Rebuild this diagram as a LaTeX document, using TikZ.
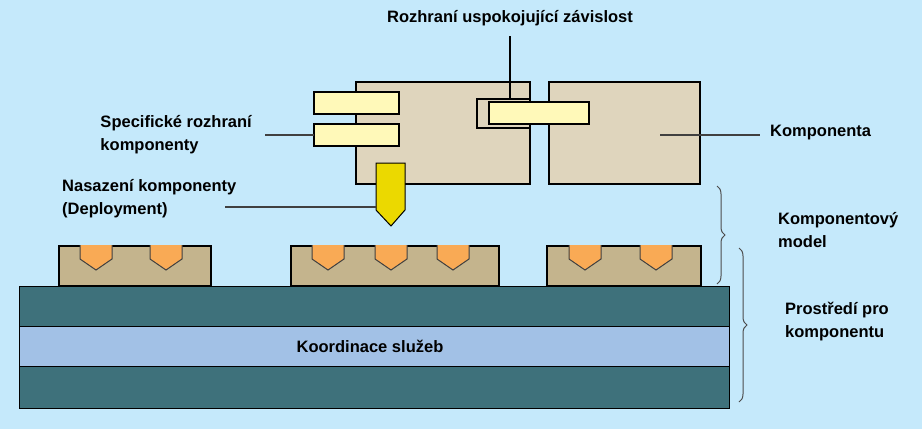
\documentclass[tikz,border=0pt]{standalone}
\usepackage{fontspec}
\setmainfont{Liberation Sans}
\usetikzlibrary{decorations.pathreplacing}
\definecolor{bg}{HTML}{C5E9FB}
\definecolor{comp}{HTML}{DFD5BD}
\definecolor{yel}{HTML}{FFF9B9}
\definecolor{base}{HTML}{C4B48D}
\definecolor{orng}{HTML}{F9AA55}
\definecolor{slab}{HTML}{3E717B}
\definecolor{band}{HTML}{A2C1E6}
\definecolor{plug}{HTML}{EBD900}
\tikzset{x=1pt,y=-1pt,
 lbl/.style={font=\bfseries\fontsize{16.5}{23}\selectfont,align=left,inner sep=0},
 box/.style={draw=black,line width=1.2pt},
 lead/.style={draw=black!75,line width=1.2pt},
 sock/.style={fill=orng,draw=black!75,line width=1pt},
 brc/.style={draw=black!70,line width=1pt,decorate,decoration={brace,amplitude=8pt}}}
\begin{document}
\begin{tikzpicture}
\fill[bg] (0,0) rectangle (922,429);
\useasboundingbox (0,0) rectangle (922,429);
% slab
\fill[slab,draw=black] (19,286) rectangle (729,408);
\fill[band,draw=black] (19,326) rectangle (729,366);
\node[lbl] (ks) at (370,346) {Koordinace služeb};
% bases
\foreach \a/\b in {59/211,291/499,547/701}{\draw[box,fill=base] (\a,246) rectangle (\b,286);}
\foreach \c in {96,166,328,391,453,585,656}{
 \draw[sock] (\c-16,245) -- (\c-16,259) -- (\c,270) -- (\c+16,259) -- (\c+16,245);}
% components
\draw[box,fill=comp] (356,82) rectangle (530,184);
\draw[box,fill=comp] (549,82) rectangle (700,184);
\draw[box] (477,99) rectangle (530,128);
\draw[box,fill=yel] (489,102) rectangle (589,124);
\draw[box,fill=yel] (314,92) rectangle (399,114);
\draw[box,fill=yel] (314,124) rectangle (399,146);
\draw[fill=plug,draw=black,line width=1pt] (376,163) -- (405,163) -- (405,210) -- (391,226) -- (376,210) -- cycle;
% labels
\node[lbl,anchor=south] (r) at (510,26) {Rozhraní uspokojující závislost};
\draw[box] (510,36) -- (510,100);
\node[lbl,anchor=east] (s) at (252,135) {Specifické rozhraní\\komponenty};
\draw[lead] (265,135) -- (314,135);
\node[lbl,anchor=west] (k) at (770,133) {Komponenta};
\draw[lead] (660,135) -- (760,135);
\node[lbl,anchor=west] (n) at (62,199) {Nasazení komponenty\\(Deployment)};
\draw[lead] (225,207) -- (376,207);
\node[lbl,anchor=west] (km) at (778,230) {Komponentový\\model};
\draw[brc] (717,186) -- (717,284);
\node[lbl,anchor=west] (p) at (785,322) {Prostředí pro\\komponentu};
\draw[brc] (739,248) -- (739,402);
\end{tikzpicture}
\end{document}
